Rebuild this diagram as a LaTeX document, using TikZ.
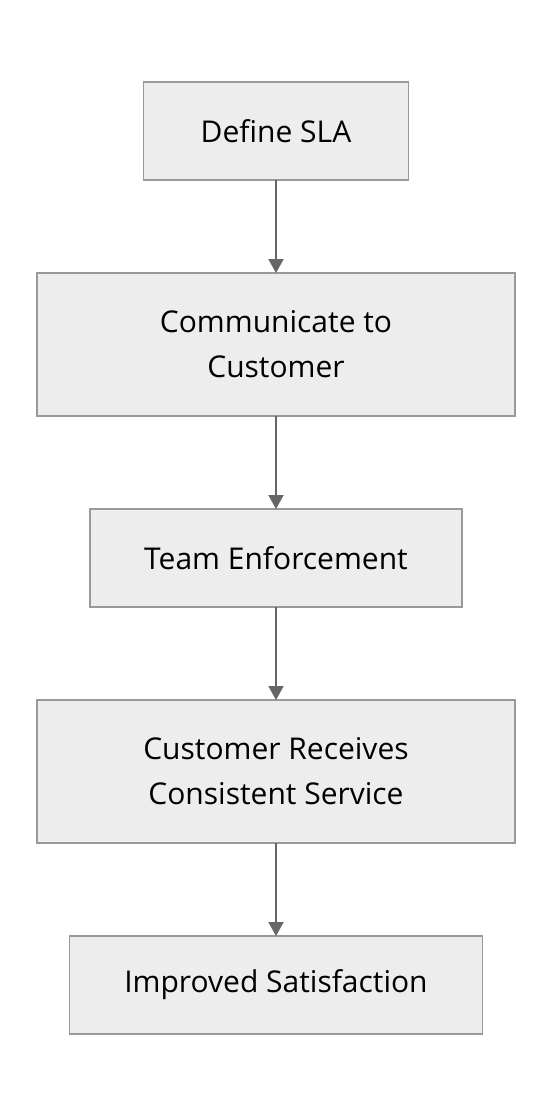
\documentclass[tikz,border=0pt]{standalone}
\usepackage{fontspec}
\setmainfont{Open Sans}
\usetikzlibrary{arrows.meta,positioning}

\begin{document}
\begin{tikzpicture}[slot/.style={draw=black!40, fill=black!7, line width=1.5pt, outer sep=0pt, rectangle, align=center, font=\fontsize{30}{45}\selectfont, minimum height=98pt},
	link/.style={draw=black!60, line width=2pt, -{Triangle[length=14pt,width=15pt]}},
	node distance=93pt]
	\useasboundingbox (0,0) rectangle (552pt,-1116pt);
	\node[slot, minimum width=265pt] (sla) at (276pt,-131pt) {Define SLA};
	\node[slot, below=of sla, minimum width=478pt, minimum height=143pt] (comm) {Communicate to\\Customer};
	\node[slot, below=of comm, minimum width=372pt] (team) {Team Enforcement};
	\node[slot, below=of team, minimum width=478pt, minimum height=143pt] (recv) {Customer Receives\\Consistent Service};
	\node[slot, below=of recv, minimum width=413pt] (sat) {Improved Satisfaction};
	\draw[link] (sla) -- (comm);
	\draw[link] (comm) -- (team);
	\draw[link] (team) -- (recv);
	\draw[link] (recv) -- (sat);
\end{tikzpicture}
\end{document}
